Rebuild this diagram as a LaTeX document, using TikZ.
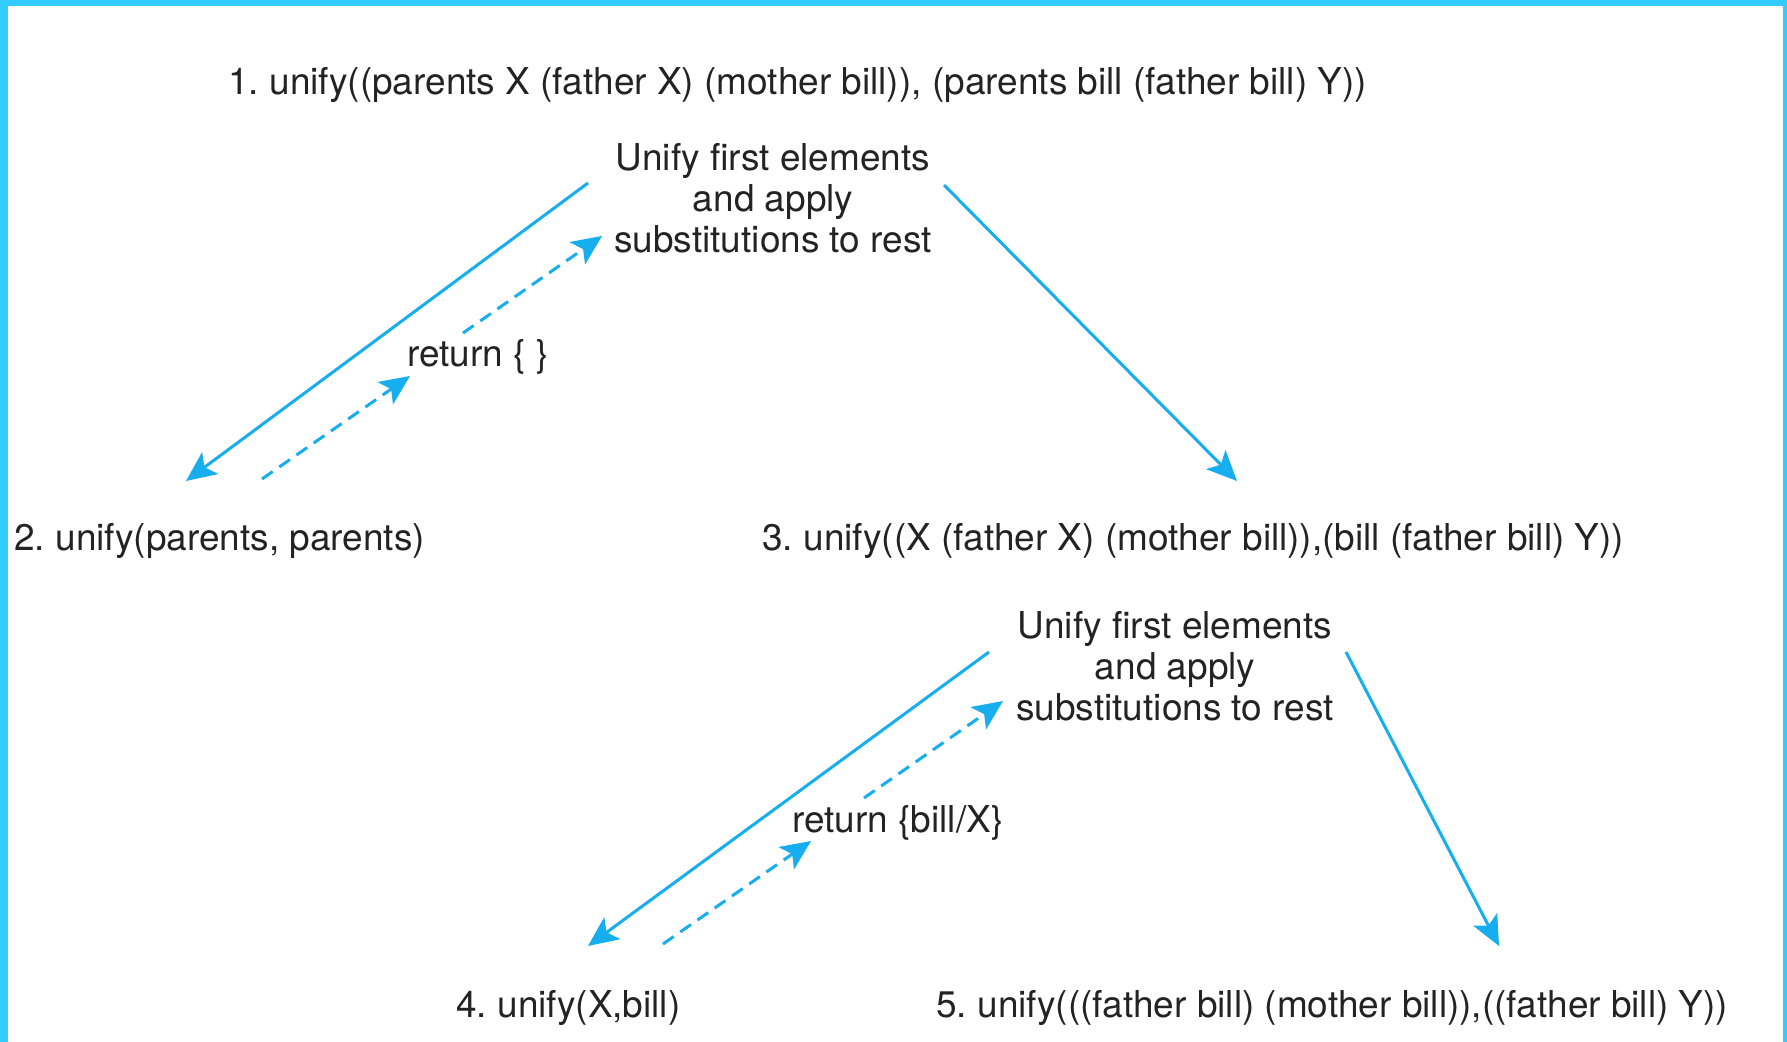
\documentclass[tikz,border=0pt]{standalone}
\usepackage{fontspec}
\setmainfont{TeX Gyre Heros}
\usetikzlibrary{arrows.meta}
\definecolor{framecyan}{RGB}{51,204,255}
\definecolor{flowblue}{RGB}{22,174,238}
\definecolor{inkgray}{RGB}{35,35,35}
\frenchspacing
\tikzset{
  lbl/.style={inner sep=0pt, text=inkgray, font=\fontsize{18.5}{22}\selectfont},
  call/.style={lbl, anchor=base west},
  note/.style={lbl, anchor=base},
  down/.style={draw=flowblue, line width=1.5pt, -{Stealth[length=15pt,width=13.5pt,inset=3.5pt]}},
  back/.style={down, dash pattern=on 6.5pt off 4pt},
}
\begin{document}
\begin{tikzpicture}[x=0.5pt,y=-0.5pt]
  % page and frame strips
  \useasboundingbox (0,0) rectangle (1787,1042);
  \fill[white] (0,0) rectangle (1787,1042);
  \fill[framecyan] (0,0) rectangle (1787,6);
  \fill[framecyan] (0,0) rectangle (8,1042);
  \fill[framecyan] (1783,0) rectangle (1787,1042);

  % calls
  \node[call] (c1) at (228,95) {1. unify((parents X (father X) (mother bill)), (parents bill (father bill) Y))};
  \node[call] (c2) at (14,551) {2. unify(parents, parents)};
  \node[call] (c3) at (762,551) {3. unify((X (father X) (mother bill)),(bill (father bill) Y))};
  \node[call] (c4) at (456,1017) {4. unify(X,bill)};
  \node[call] (c5) at (936,1017) {5. unify(((father bill) (mother bill)),((father bill) Y))};

  % step notes
  \node[note] (s1a) at (773,171) {Unify first elements};
  \node[note] (s1b) at (773,212) {and apply};
  \node[note] (s1c) at (773,253) {substitutions to rest};
  \node[note] (s2a) at (1175,638) {Unify first elements};
  \node[note] (s2b) at (1175,679) {and apply};
  \node[note] (s2c) at (1175,720) {substitutions to rest};

  % returned substitutions
  \node[call] (r1) at (407,367) {return \{ \}};
  \node[call] (r2) at (792,832) {return \{bill/X\}};

  % connector end points
  \coordinate (a1s) at (588,183);  \coordinate (a1e) at (186,481);
  \coordinate (b1s) at (262,479);  \coordinate (b1e) at (410,376);
  \coordinate (b2s) at (463,333);  \coordinate (b2e) at (602,236);
  \coordinate (a2s) at (944,185);  \coordinate (a2e) at (1237,481);
  \coordinate (a3s) at (989,652);  \coordinate (a3e) at (588,946);
  \coordinate (b3s) at (663,944);  \coordinate (b3e) at (811,841);
  \coordinate (b4s) at (864,798);  \coordinate (b4e) at (1003,701);
  \coordinate (a4s) at (1346,652); \coordinate (a4e) at (1499,946);

  % recursive calls
  \draw[down] (a1s) -- (a1e);
  \draw[down] (a2s) -- (a2e);
  \draw[down] (a3s) -- (a3e);
  \draw[down] (a4s) -- (a4e);

  % results passed back
  \draw[back] (b1s) -- (b1e);
  \draw[back] (b2s) -- (b2e);
  \draw[back] (b3s) -- (b3e);
  \draw[back] (b4s) -- (b4e);
\end{tikzpicture}
\end{document}
